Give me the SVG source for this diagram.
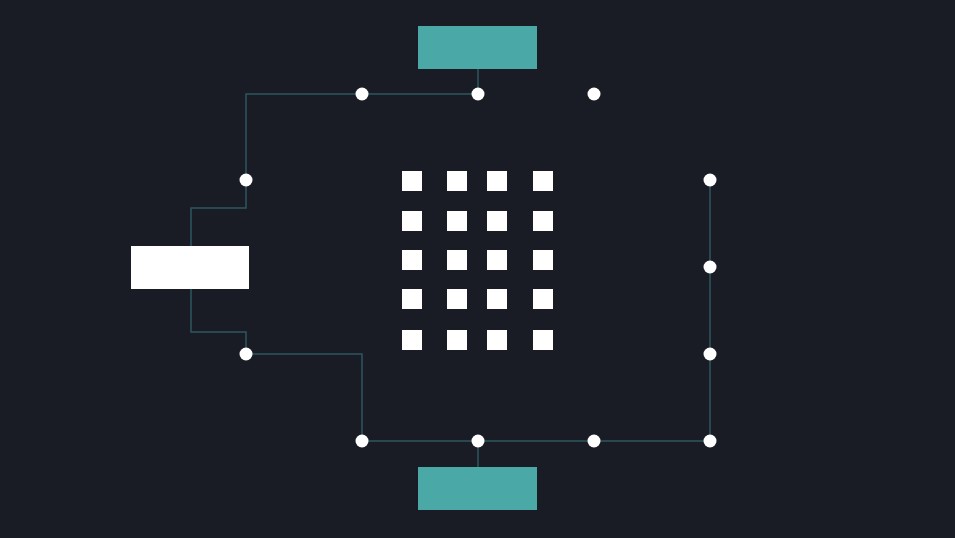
<svg xmlns="http://www.w3.org/2000/svg" width="955" height="538" viewBox="0 0 955 538">
<style>
.wire{fill:none;stroke:#2c5660;stroke-width:1.5}
.dot{fill:#ffffff}
.teal{fill:#4aa9a7}
.white{fill:#ffffff}
.sq{fill:#ffffff}
</style>
<rect width="955" height="538" fill="#191c25"/>
<g id="connectors">
<path class="wire" d="M478 69 V94"/>
<path class="wire" d="M478 94 H246 V208 H191 V246"/>
<path class="wire" d="M191 289 V332 H246 V354 H362 V441 H710 V180"/>
<path class="wire" d="M478 441 V467"/>
</g>
<g id="node-top"><rect class="teal" x="418" y="26" width="119" height="43"/></g>
<g id="node-left"><rect class="white" x="131" y="246" width="118" height="43"/></g>
<g id="node-bottom"><rect class="teal" x="418" y="467" width="119" height="43"/></g>
<g id="dots">
<circle class="dot" cx="362" cy="94" r="6.5"/>
<circle class="dot" cx="478" cy="94" r="6.5"/>
<circle class="dot" cx="594" cy="94" r="6.5"/>
<circle class="dot" cx="246" cy="180" r="6.5"/>
<circle class="dot" cx="246" cy="354" r="6.5"/>
<circle class="dot" cx="710" cy="180" r="6.5"/>
<circle class="dot" cx="710" cy="267" r="6.5"/>
<circle class="dot" cx="710" cy="354" r="6.5"/>
<circle class="dot" cx="362" cy="441" r="6.5"/>
<circle class="dot" cx="478" cy="441" r="6.5"/>
<circle class="dot" cx="594" cy="441" r="6.5"/>
<circle class="dot" cx="710" cy="441" r="6.5"/>
</g>
<g id="grid">
<rect class="sq" x="402" y="171" width="20" height="20"/>
<rect class="sq" x="447" y="171" width="20" height="20"/>
<rect class="sq" x="487" y="171" width="20" height="20"/>
<rect class="sq" x="533" y="171" width="20" height="20"/>
<rect class="sq" x="402" y="211" width="20" height="20"/>
<rect class="sq" x="447" y="211" width="20" height="20"/>
<rect class="sq" x="487" y="211" width="20" height="20"/>
<rect class="sq" x="533" y="211" width="20" height="20"/>
<rect class="sq" x="402" y="250" width="20" height="20"/>
<rect class="sq" x="447" y="250" width="20" height="20"/>
<rect class="sq" x="487" y="250" width="20" height="20"/>
<rect class="sq" x="533" y="250" width="20" height="20"/>
<rect class="sq" x="402" y="289" width="20" height="20"/>
<rect class="sq" x="447" y="289" width="20" height="20"/>
<rect class="sq" x="487" y="289" width="20" height="20"/>
<rect class="sq" x="533" y="289" width="20" height="20"/>
<rect class="sq" x="402" y="330" width="20" height="20"/>
<rect class="sq" x="447" y="330" width="20" height="20"/>
<rect class="sq" x="487" y="330" width="20" height="20"/>
<rect class="sq" x="533" y="330" width="20" height="20"/>
</g>
</svg>
